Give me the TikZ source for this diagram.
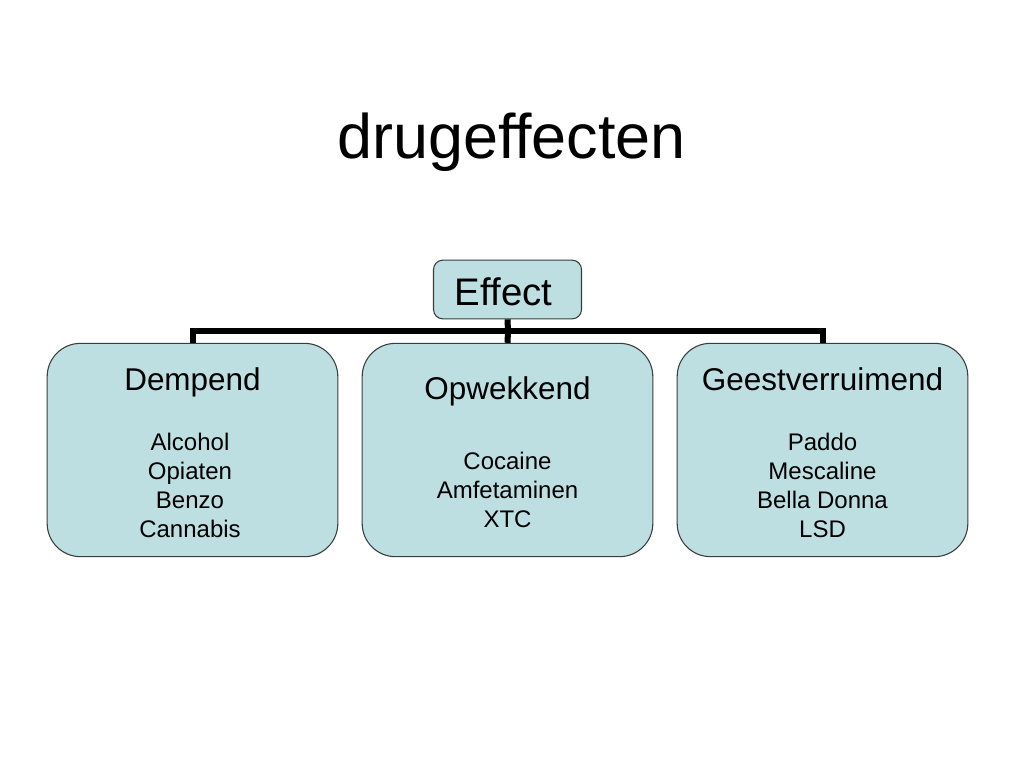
\documentclass[tikz,border=0pt]{standalone}
\usepackage{fontspec}
\setmainfont{Liberation Sans}
\definecolor{boxfill}{RGB}{189,223,226}
\definecolor{boxline}{RGB}{60,60,60}
\begin{document}
\begin{tikzpicture}[x=0.75pt,y=-0.75pt,
  catbox/.style={draw=boxline,fill=boxfill,line width=0.8pt,rounded corners=25pt,minimum width=218pt,minimum height=160pt,inner sep=0pt},
  topbox/.style={draw=boxline,fill=boxfill,line width=0.8pt,rounded corners=7pt,minimum width=111pt,minimum height=44pt,inner sep=0pt},
  head/.style={font=\fontsize{23.6}{28}\selectfont,inner sep=0pt,anchor=base},
  items/.style={font=\fontsize{18}{21.75}\selectfont,align=center,inner sep=0pt,anchor=base},
  link/.style={line width=4.5pt}]
\useasboundingbox (0,0) rectangle (1024,768);
\fill[white] (0,0) rectangle (1024,768);
\node[font=\fontsize{47.2}{56}\selectfont,anchor=base,inner sep=0pt] (title) at (511.5,158) {drugeffecten};
\node[topbox] (eff) at (507.5,289.5) {};
\node[font=\fontsize{28.8}{34}\selectfont,anchor=base,inner sep=0pt] (efft) at (503.5,305) {Effect};
\node[catbox] (c1) at (192.5,450) {};
\node[catbox] (c2) at (507.5,450) {};
\node[catbox] (c3) at (822.5,450) {};
\coordinate (j) at (508,331);
\draw[link] (eff.south) -- (j);
\draw[link] (c1.north) |- (j) -| (c3.north);
\draw[link] (j) -- (c2.north);
\node[head] (h1) at (192.5,390) {Dempend};
\node[items] (l1) at (190,537) {Alcohol\\Opiaten\\Benzo\\Cannabis};
\node[head] (h2) at (507.5,399) {Opwekkend};
\node[items] (l2) at (507.5,527) {Cocaine\\Amfetaminen\\XTC};
\node[head] (h3) at (822.5,390) {Geestverruimend};
\node[items] (l3) at (822.5,537) {Paddo\\Mescaline\\Bella Donna\\LSD};
\end{tikzpicture}
\end{document}
